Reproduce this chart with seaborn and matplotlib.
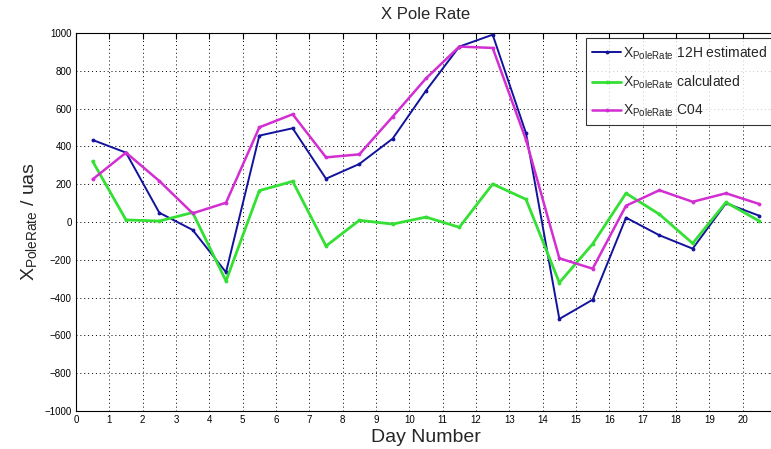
import matplotlib
matplotlib.use("Agg")
import matplotlib.pyplot as plt
import seaborn as sns
import pandas as pd
import numpy as np

day = [0.5, 1.5, 2.5, 3.5, 4.5, 5.5, 6.5, 7.5, 8.5, 9.5, 10.5,
       11.5, 12.5, 13.5, 14.5, 15.5, 16.5, 17.5, 18.5, 19.5, 20.5]
est_12h = [434, 367, 49, -42, -266, 457, 496, 229, 307, 441, 695,
           928, 991, 470, -513, -411, 23, -70, -141, 99, 33]
calculated = [321, 11, 5, 50, -312, 166, 215, -127, 9, -11, 26,
              -28, 201, 120, -321, -116, 152, 41, -113, 104, 5]
c04 = [226, 367, 217, 46, 102, 501, 570, 342, 358, 557, 760,
       928, 921, 435, -192, -247, 86, 168, 107, 152, 95]

labels = [r'X$_{\mathrm{PoleRate}}$ 12H estimated',
          r'X$_{\mathrm{PoleRate}}$ calculated',
          r'X$_{\mathrm{PoleRate}}$ C04']
colors = ['#12129c', '#33e033', '#d22ed2']
widths = [1.4, 2.0, 1.8]

sns.set_style("white")
plt.rcParams['font.family'] = ['Liberation Sans', 'DejaVu Sans']
plt.rcParams['mathtext.fontset'] = 'custom'
plt.rcParams['mathtext.rm'] = 'Liberation Sans'
plt.rcParams['mathtext.it'] = 'Liberation Sans:italic'

fig = plt.figure(figsize=(7.71, 4.49), dpi=100)
ax = fig.add_axes([76/771, 38/449, 700/771, 378/449])

for vals, lab, col, lw in zip([est_12h, calculated, c04], labels, colors, widths):
    df = pd.DataFrame({'day': day, 'value': vals})
    sns.lineplot(data=df, x='day', y='value', ax=ax, color=col, linewidth=lw,
                 marker='.', markersize=4, markeredgecolor=col, label=lab)

ax.set_xlim(0, 21)
ax.set_ylim(-1000, 1000)
ax.set_xticks(np.arange(0, 22, 1))
ax.set_yticks(np.arange(-1000, 1001, 200))
ax.tick_params(axis='both', direction='in', labelsize=7, length=4,
               top=True, right=True, colors='black', pad=3)
ax.grid(True, color='black', linestyle=(0, (1, 3)), linewidth=0.7)
for s in ax.spines.values():
    s.set_color('black')
    s.set_linewidth(0.8)

ax.set_title('X Pole Rate', fontsize=12, pad=10)
ax.set_xlabel('Day Number', fontsize=14, labelpad=3)
ax.set_ylabel(r'X$_{\mathrm{PoleRate}}$ / uas', fontsize=14, labelpad=4)

leg = ax.legend(loc='upper left', bbox_to_anchor=(586/771, 1 - 38/449),
                bbox_transform=fig.transFigure, borderaxespad=0,
                fontsize=10, frameon=True, fancybox=False,
                handlelength=2.1, handletextpad=0.1, labelspacing=0.85,
                borderpad=0.45)
leg.get_frame().set_edgecolor('black')
leg.get_frame().set_linewidth(0.8)

fig.savefig('out.png', dpi=100)
